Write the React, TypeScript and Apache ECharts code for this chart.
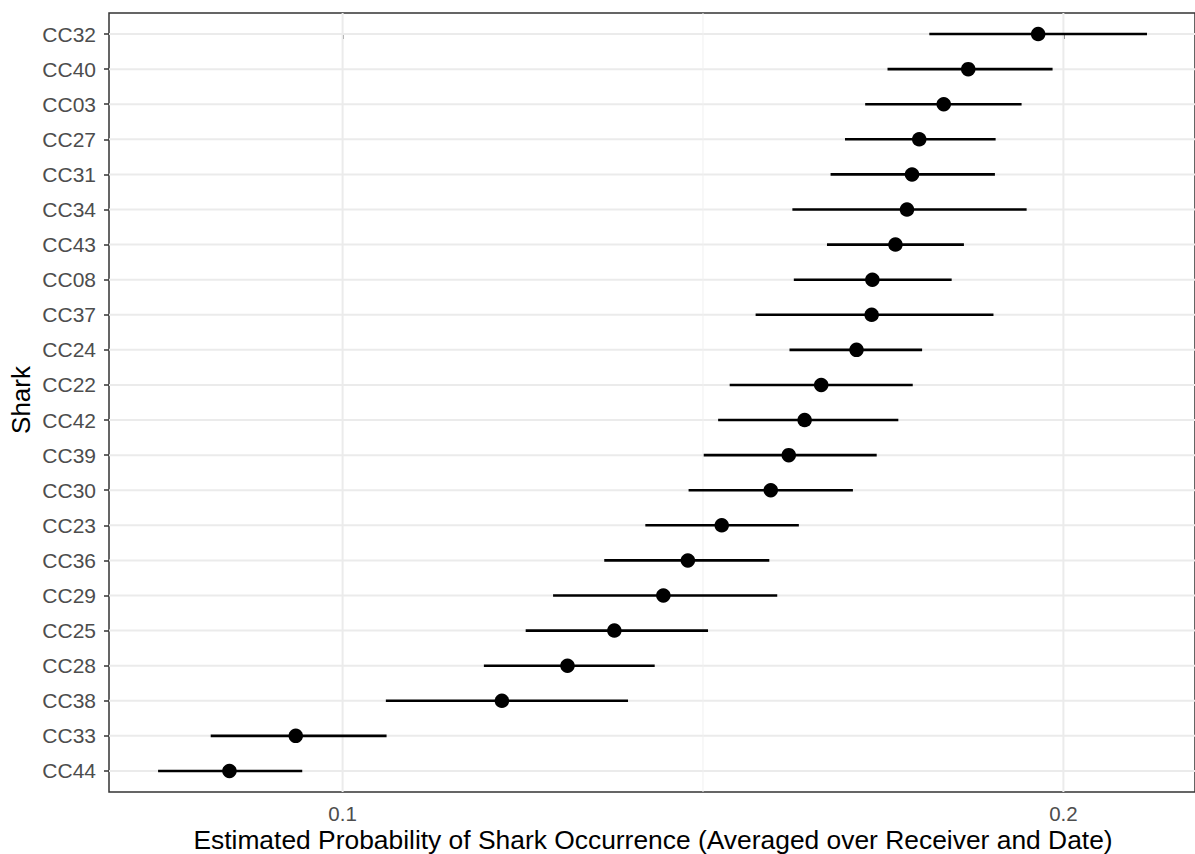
import React, { useEffect, useRef } from "react";
import * as echarts from "echarts";

const sharks = ["CC32","CC40","CC03","CC27","CC31","CC34","CC43","CC08","CC37","CC24","CC22","CC42","CC39","CC30","CC23","CC36","CC29","CC25","CC28","CC38","CC33","CC44"];
const estimates = [0.1965,0.1868,0.1834,0.1800,0.1790,0.1783,0.1767,0.1735,0.1734,0.1713,0.1664,0.1641,0.1619,0.1594,0.1526,0.1479,0.1445,0.1377,0.1312,0.1221,0.0935,0.0843];
const lower = [0.1814,0.1756,0.1725,0.1697,0.1677,0.1624,0.1672,0.1626,0.1573,0.1620,0.1537,0.1521,0.1501,0.1480,0.1420,0.1363,0.1292,0.1254,0.1196,0.1060,0.0817,0.0744];
const upper = [0.2116,0.1985,0.1942,0.1906,0.1905,0.1949,0.1862,0.1845,0.1903,0.1804,0.1791,0.1771,0.1741,0.1708,0.1633,0.1592,0.1603,0.1507,0.1433,0.1396,0.1061,0.0944];
const xTicks = [0.1, 0.2];
const xMinor = [0.15];
const xTitle = "Estimated Probability of Shark Occurrence (Averaged over Receiver and Date)";
const yTitle = "Shark";

const FONT = "'Liberation Sans', Arial, sans-serif";

export default function App() {
  const ref = useRef<HTMLDivElement>(null);
  useEffect(() => {
    if (!ref.current) return;
    const chart = echarts.init(ref.current, undefined, { renderer: "svg" });
    const idx = sharks.map((_, i) => i);
    const barData = sharks.map((_, i) => [i, lower[i], estimates[i], upper[i]]);
    const pointData = sharks.map((_, i) => [estimates[i], i]);
    // gridline data: [x, y, kind] kind 0 = horizontal major, 1 = vertical major, 2 = vertical minor
    const gridData = [
      ...idx.map((i) => [0.1, i, 0]),
      ...xTicks.map((v) => [v, 0, 1]),
      ...xMinor.map((v) => [v, 0, 2]),
    ];
    chart.setOption({
      animation: false,
      backgroundColor: "#ffffff",
      grid: {
        left: 109,
        top: 13,
        right: -3,
        bottom: 62,
        show: true,
        borderColor: "#333333",
        borderWidth: 1.5,
        backgroundColor: "transparent",
      },
      xAxis: {
        type: "value",
        min: 0.06759,
        max: 0.21826,
        axisLine: { show: false },
        splitLine: { show: false },
        axisTick: { show: true, customValues: xTicks, length: 5, lineStyle: { color: "#333333", width: 1.5 } },
        axisLabel: {
          customValues: xTicks,
          color: "#4d4d4d",
          fontSize: 20.5,
          fontFamily: FONT,
          margin: 11,
          formatter: (v: number) => String(Math.round(v * 100) / 100),
        },
      },
      yAxis: {
        type: "value",
        inverse: true,
        min: -0.6,
        max: sharks.length - 1 + 0.6,
        axisLine: { show: false },
        splitLine: { show: false },
        axisTick: { show: true, customValues: idx, length: 5, lineStyle: { color: "#333333", width: 1.5 } },
        axisLabel: {
          customValues: idx,
          color: "#4d4d4d",
          fontSize: 21,
          fontFamily: FONT,
          margin: 13,
          formatter: (v: number) => sharks[Math.round(v)] ?? "",
        },
      },
      graphic: [
        {
          type: "text",
          x: 21,
          y: 400,
          rotation: Math.PI / 2,
          style: {
            text: yTitle,
            fill: "#000000",
            font: `26px ${FONT}`,
            align: "center",
            verticalAlign: "middle",
          },
        },
        {
          type: "text",
          x: 653,
          y: 840,
          style: {
            text: xTitle,
            fill: "#000000",
            font: `26.4px ${FONT}`,
            align: "center",
            verticalAlign: "middle",
          },
        },
      ],
      series: [
        {
          type: "custom",
          z: 1,
          silent: true,
          data: gridData,
          encode: { x: 0, y: 1 },
          renderItem: (params: any, api: any) => {
            const cs = params.coordSys;
            const kind = api.value(2);
            const p = api.coord([api.value(0), api.value(1)]);
            if (kind === 0) {
              return {
                type: "line",
                shape: { x1: cs.x, y1: p[1], x2: cs.x + cs.width, y2: p[1] },
                style: { stroke: "#ebebeb", lineWidth: 2 },
              };
            }
            return {
              type: "line",
              shape: { x1: p[0], y1: cs.y, x2: p[0], y2: cs.y + cs.height },
              style: { stroke: kind === 1 ? "#ebebeb" : "#f0f0f0", lineWidth: kind === 1 ? 2 : 1 },
            };
          },
        },
        {
          type: "custom",
          z: 6,
          silent: true,
          data: barData,
          encode: { x: [1, 3], y: 0 },
          renderItem: (params: any, api: any) => {
            const i = api.value(0);
            const p1 = api.coord([api.value(1), i]);
            const p2 = api.coord([api.value(3), i]);
            const h = 2.6;
            return {
              type: "rect",
              shape: { x: p1[0], y: p1[1] - h / 2, width: p2[0] - p1[0], height: h },
              style: { fill: "#000000" },
            };
          },
        },
        {
          type: "scatter",
          z: 7,
          data: pointData,
          symbol: "circle",
          symbolSize: 14.5,
          itemStyle: { color: "#000000", opacity: 1 },
        },
      ],
    });
    return () => chart.dispose();
  }, []);
  return (
    <div
      ref={ref}
      style={{ position: "fixed", left: 0, top: 0, width: 1195, height: 854 }}
    />
  );
}
